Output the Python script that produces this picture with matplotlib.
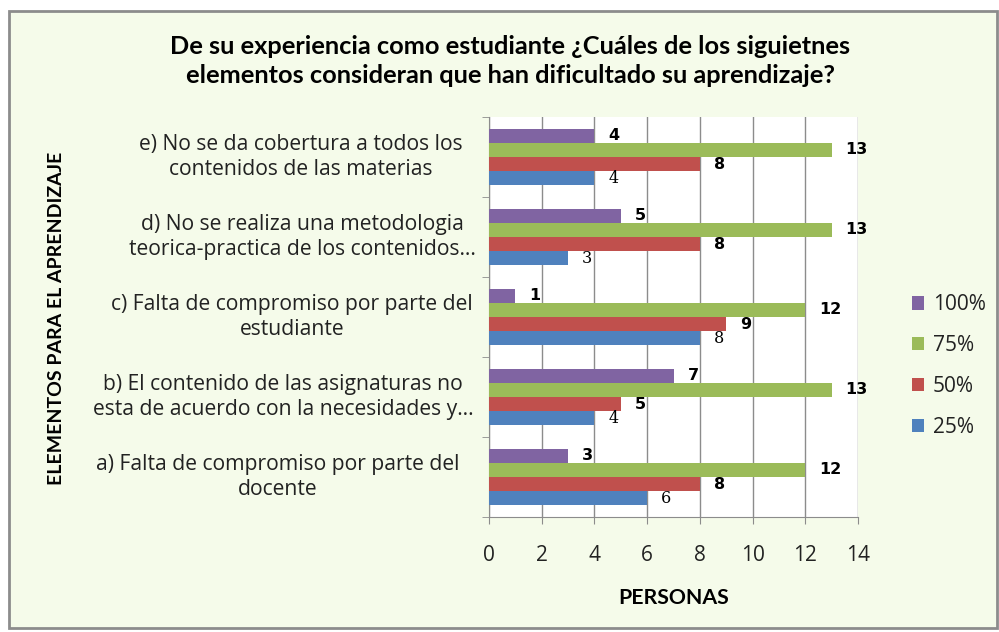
import matplotlib
matplotlib.use("Agg")
import matplotlib.pyplot as plt
import matplotlib.transforms as mtransforms
import numpy as np
from matplotlib.patches import Rectangle

categories = [
    "a) Falta de compromiso por parte del\ndocente",
    "b) El contenido de las asignaturas no\nesta de acuerdo con la necesidades y…",
    "c) Falta de compromiso por parte del\nestudiante",
    "d) No se realiza una metodologia\nteorica-practica de los contenidos…",
    "e) No se da cobertura a todos los\ncontenidos de las materias",
]
series_names = ["25%", "50%", "75%", "100%"]
v25 = [6, 4, 8, 3, 4]
v50 = [8, 5, 9, 8, 8]
v75 = [12, 13, 12, 13, 13]
v100 = [3, 7, 1, 5, 4]
colors = ["#4F81BD", "#C0504D", "#9BBB59", "#8064A2"]
x_ticks = [0, 2, 4, 6, 8, 10, 12, 14]

title = "De su experiencia como estudiante ¿Cuáles de los siguietnes\nelementos consideran que han dificultado su aprendizaje?"

# layout: horizontal centre (pixels) of each category label block
label_centers_px = [278, 283, 292, 302, 301]

BG = "#F5FBEA"
W, H = 999, 632
fig = plt.figure(figsize=(W / 100, H / 100), dpi=100)
fig.patch.set_facecolor("white")

# chart frame
fig.patches.append(Rectangle((9 / W, 1 - 628 / H), (997 - 9) / W, (628 - 11) / H,
                             transform=fig.transFigure, facecolor=BG,
                             edgecolor="#8C8C8C", linewidth=2.0, zorder=-10))

ax = fig.add_axes([489 / W, 1 - 517 / H, (858 - 489) / W, (517 - 117) / H])
ax.set_zorder(5)
ax.set_facecolor("white")

data = [v25, v50, v75, v100]
n = len(categories)
bar_h = 0.178
y = np.arange(n)
offsets = (np.arange(4) - 1.5) * bar_h
for i, (vals, c) in enumerate(zip(data, colors)):
    bars = ax.barh(y + offsets[i], vals, height=bar_h, color=c, label=series_names[i], zorder=3)
    for b, v in zip(bars, vals):
        ax.annotate(str(v), (b.get_width(), b.get_y() + b.get_height() / 2),
                    xytext=(10, 0), textcoords="offset points",
                    ha="left", va="center", fontsize=11.5,
                    fontweight="normal" if i == 0 else "bold",
                    family="DejaVu Serif" if i == 0 else "DejaVu Sans",
                    color="black", zorder=4)

ax.set_xlim(0, 14)
ax.set_ylim(-0.5, n - 0.5)
ax.set_xticks(x_ticks)
ax.set_xticklabels([str(t) for t in x_ticks], family="Open Sans", fontsize=15, color="#222222")
ax.xaxis.grid(True, color="#8C8C8C", linewidth=1.0, zorder=0)
ax.tick_params(axis="x", length=5, color="#8C8C8C", pad=15)

# category labels
ax.set_yticks(y)
ax.set_yticklabels([])
ax.tick_params(axis="y", length=0)
trans = mtransforms.blended_transform_factory(fig.transFigure, ax.transData)
for cat, yy, cx in zip(categories, y, label_centers_px):
    ax.text(cx / W, yy, cat, transform=trans, family="Open Sans", fontsize=15.2,
            color="#222222", ha="center", va="center", multialignment="center",
            linespacing=1.28, clip_on=False)
ax.set_yticks(np.arange(n + 1) - 0.5, minor=True)
ax.tick_params(axis="y", which="minor", length=5, color="#8C8C8C")

for s in ["top", "right"]:
    ax.spines[s].set_visible(False)
ax.spines["left"].set_color("#8C8C8C")
ax.spines["bottom"].set_color("#8C8C8C")

ax.set_xlabel("PERSONAS", family="Lato", fontweight="bold", fontsize=15.3, labelpad=16)
fig.text(57 / W, 1 - 318 / H, "ELEMENTOS PARA EL APRENDIZAJE", rotation=90,
         family="Lato", fontweight="bold", fontsize=14, ha="center", va="center")

fig.text(510 / W, 1 - 61 / H, title, family="Lato", fontweight="bold", fontsize=18.3,
         ha="center", va="center", linespacing=1.35)

handles, labels = ax.get_legend_handles_labels()
leg = fig.legend(handles[::-1], labels[::-1], loc="center left",
                 bbox_to_anchor=(893 / W, 1 - 366 / H), frameon=False,
                 prop={"family": "Open Sans", "size": 15},
                 handlelength=0.6, handleheight=0.6, handletextpad=0.4,
                 labelspacing=0.95, labelcolor="#222222")

fig.savefig("out.png", dpi=100, facecolor=fig.get_facecolor())
